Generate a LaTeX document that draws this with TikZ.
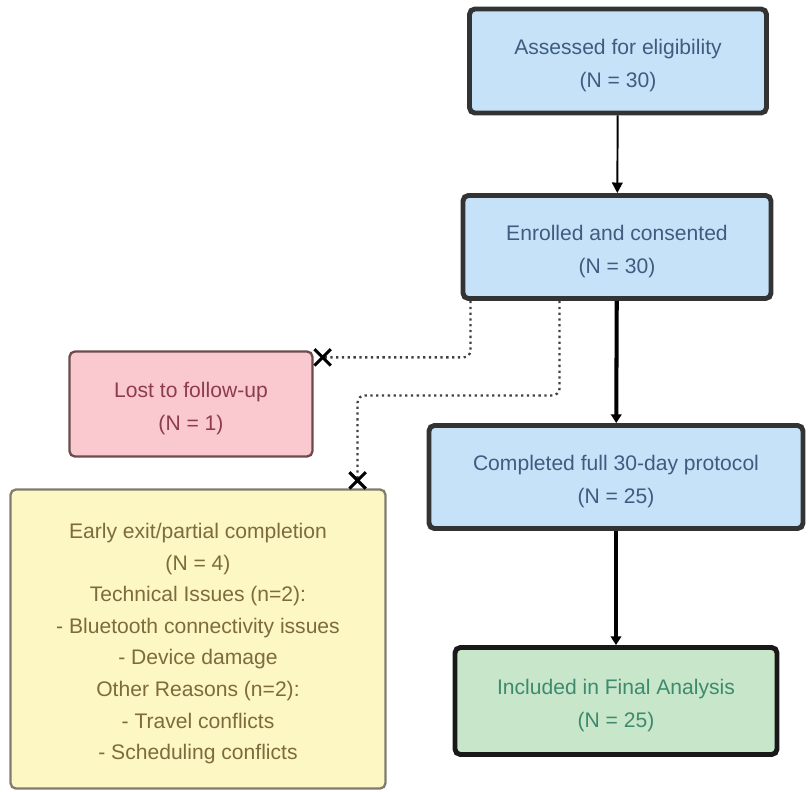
\documentclass[tikz,border=0pt]{standalone}
\usepackage{fontspec}
\setmainfont{Liberation Sans}
\usepackage{xcolor}
\usetikzlibrary{shapes.misc,arrows.meta,calc}

\definecolor{fillblue}{HTML}{C6E2F8}
\definecolor{textblue}{HTML}{3E5C80}
\definecolor{fillpink}{HTML}{F9C9CF}
\definecolor{textpink}{HTML}{8E3B4E}
\definecolor{fillyellow}{HTML}{FDF7C3}
\definecolor{textyellow}{HTML}{7D6B3F}
\definecolor{fillgreen}{HTML}{C8E6C9}
\definecolor{textgreen}{HTML}{3E8A6E}

\newcommand{\topgap}{\rule{0pt}{14pt}}

\tikzset{
  flowbox/.style={rectangle, rounded corners=3pt, align=center,
    font=\fontsize{12}{18.8}\selectfont},
  mainbox/.style={flowbox, draw=black!80, line width=2.8pt, fill=fillblue, text=textblue},
  sidebox/.style={flowbox, draw=black!75!red!60!gray, line width=1.3pt},
  exitmark/.style={cross out, draw=black, line width=1.8pt, minimum size=7.5pt, inner sep=0pt}
}

\begin{document}
\begin{tikzpicture}[x=0.02cm,y=-0.02cm]
	\useasboundingbox (0,0) rectangle (809,792);
	% main column
	\node[mainbox, minimum width=5.94cm, minimum height=2.08cm] (assess) at (618,61) {\topgap Assessed for eligibility\\(N = 30)};
	\node[mainbox, minimum width=6.16cm, minimum height=2.06cm] (enrol) at (617,247) {\topgap Enrolled and consented\\(N = 30)};
	\node[mainbox, minimum width=7.48cm, minimum height=2.06cm] (complete) at (616,477) {\topgap Completed full 30-day protocol\\(N = 25)};
	\node[mainbox, fill=fillgreen, text=textgreen, draw=black!90, minimum width=6.44cm, minimum height=2.14cm] (final) at (616,701) {\topgap Included in Final Analysis\\(N = 25)};
	% side boxes
	\node[sidebox, fill=fillpink, text=textpink, draw=black!70!red!40!gray, minimum width=4.86cm, minimum height=2.1cm] (lost) at (191,404) {\topgap Lost to follow-up\\(N = 1)};
	\node[sidebox, fill=fillyellow, text=textyellow, draw=black!70!yellow!40!gray, minimum width=7.5cm, minimum height=5.98cm,
		font=\fontsize{12}{18}\selectfont] (early) at (198,639)
		{\topgap Early exit/partial completion\\(N = 4)\\Technical Issues (n=2):\\- Bluetooth connectivity issues\\- Device damage\\Other Reasons (n=2):\\- Travel conflicts\\- Scheduling conflicts};
	% arrows
	\draw[line width=1.1pt, -{Triangle[length=6pt,width=6pt]}] (assess) -- (enrol);
	\draw[line width=2.3pt, -{Triangle[length=5pt,width=6pt]}] (enrol) -- (complete);
	\draw[line width=2.3pt, -{Triangle[length=5pt,width=6pt]}] (complete) -- (final);
	% drop-outs
	\coordinate (lostend) at ($(lost.north east)+(9,7)$);
	\coordinate (earlyend) at ($(early.north east)+(-29,-8)$);
	\draw[dotted, line width=1.3pt, black!75, rounded corners=4pt] ($(enrol.south west)+(10,0)$) |- (lostend);
	\draw[dotted, line width=1.3pt, black!75, rounded corners=4pt] ($(enrol.south west)+(99,0)$) |- ($(earlyend)+(0,-85)$) -- (earlyend);
	\node[exitmark] at (lostend) {};
	\node[exitmark] at (earlyend) {};
\end{tikzpicture}
\end{document}
